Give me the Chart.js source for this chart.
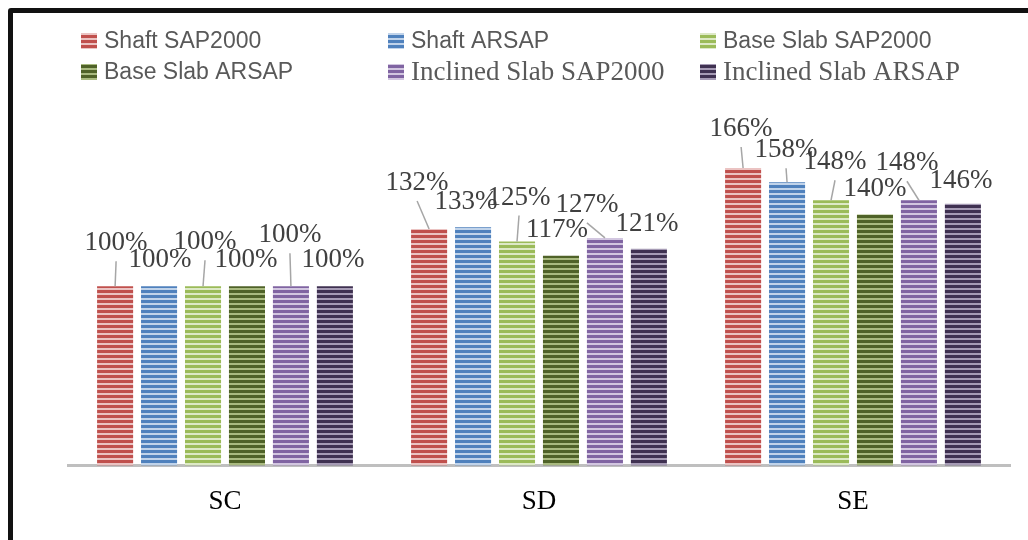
<!DOCTYPE html>
<html>
<head>
<meta charset="utf-8">
<script src="https://cdn.jsdelivr.net/npm/chart.js@4.4.1/dist/chart.umd.min.js"></script>
<style>
  html, body { margin: 0; padding: 0; background: #fff; overflow: hidden; }
  #wrap { position: relative; width: 1028px; height: 540px; }
  #frame { position: absolute; left: 8px; top: 8px; width: 1100px; height: 600px; border: 5px solid #111; border-radius: 3px; pointer-events: none; }
</style>
</head>
<body>
<div id="wrap">
  <canvas id="chart" width="1028" height="540"></canvas>
  <div id="frame"></div>
</div>
<script>
const categories = ['SC', 'SD', 'SE'];
const seriesNames = ['Shaft SAP2000', 'Shaft ARSAP', 'Base Slab SAP2000', 'Base Slab ARSAP', 'Inclined Slab SAP2000', 'Inclined Slab ARSAP'];
const shaftSap = [100, 132, 166];
const shaftArsap = [100, 133, 158];
const baseSlabSap = [100, 125, 148];
const baseSlabArsap = [100, 117, 140];
const inclinedSap = [100, 127, 148];
const inclinedArsap = [100, 121, 146];

// label nudges (px) from top centre of each bar, like the manually moved excel labels
const labelShift = [
  [[1, -43], [-12, -46], [-2, -39]],
  [[1, -26], [-7, -25], [-1, -32]],
  [[2, -44], [2, -44], [4, -38]],
  [[-1, -26], [-4, -26], [0, -26]],
  [[-1, -51], [-18, -33], [-12, -37]],
  [[-2, -26], [-2, -25], [-2, -23]]
];

const ctx = document.getElementById('chart').getContext('2d');

function stripes(color, light) {
  const c = document.createElement('canvas');
  c.width = 4;
  c.height = 5;
  const g = c.getContext('2d');
  g.fillStyle = color;
  g.fillRect(0, 0, 4, 5);
  g.fillStyle = light;
  g.fillRect(0, 3, 4, 2);
  return ctx.createPattern(c, 'repeat');
}

const fills = [
  stripes('#C0504D', '#EBC3C2'),
  stripes('#4F81BD', '#C0D3EA'),
  stripes('#9BBB59', '#DDE9C6'),
  stripes('#4F6228', '#A9BA80'),
  stripes('#8064A2', '#D2C6E0'),
  stripes('#3F3151', '#A69BB5')
];
// first four legend texts are calibri-ish, last two came out in times
const legendFonts = ['sans', 'sans', 'sans', 'sans', 'serif', 'serif'];

const legendPlugin = {
  id: 'gridLegend',
  afterDraw(chart) {
    const c = chart.ctx;
    const cols = [81, 388, 700];
    const rows = [41, 72];
    c.save();
    c.textBaseline = 'middle';
    c.textAlign = 'left';
    chart.data.datasets.forEach((ds, i) => {
      const x = cols[i % 3];
      const y = rows[Math.floor(i / 3)];
      c.fillStyle = ds.backgroundColor;
      c.fillRect(x, y - 8, 16, 16);
      c.fillStyle = '#595959';
      c.font = legendFonts[i] === 'sans' ? '23px "Liberation Sans", Arial, sans-serif' : '27px "Liberation Serif", "Times New Roman", serif';
      c.fillText(ds.label, x + 23, y + 1);
    });
    c.restore();
  }
};

const labelPlugin = {
  id: 'barLabels',
  afterDatasetsDraw(chart) {
    const c = chart.ctx;
    c.save();
    c.font = '27px "Liberation Serif", "Times New Roman", serif';
    c.textAlign = 'center';
    c.textBaseline = 'middle';
    chart.data.datasets.forEach((ds, i) => {
      chart.getDatasetMeta(i).data.forEach((bar, j) => {
        const [dx, dy] = labelShift[i][j];
        const lx = bar.x + dx;
        const ly = bar.y + dy;
        if (dy < -30) {
          c.strokeStyle = '#a6a6a6';
          c.lineWidth = 1.5;
          c.beginPath();
          c.moveTo(lx, ly + 18);
          c.lineTo(bar.x, bar.y);
          c.stroke();
        }
        c.fillStyle = '#404040';
        c.fillText(ds.data[j] + '%', lx, ly);
      });
    });
    c.restore();
  }
};

const allSeries = [shaftSap, shaftArsap, baseSlabSap, baseSlabArsap, inclinedSap, inclinedArsap];

new Chart(ctx, {
  type: 'bar',
  data: {
    labels: categories,
    datasets: allSeries.map((vals, i) => ({
      label: seriesNames[i],
      data: vals,
      backgroundColor: fills[i],
      borderWidth: 0,
      categoryPercentage: 0.84,
      barPercentage: 0.82
    }))
  },
  options: {
    responsive: false,
    animation: false,
    layout: { padding: { left: 68, right: 18, top: 107, bottom: 2 } },
    plugins: {
      legend: { display: false },
      tooltip: { enabled: false }
    },
    scales: {
      x: {
        grid: { display: false, drawTicks: false },
        border: { display: true, color: '#bfbfbf', width: 3 },
        ticks: {
          color: '#000',
          font: { family: '"Liberation Serif", "Times New Roman", serif', size: 27 },
          padding: 20
        }
      },
      y: {
        display: false,
        min: 0,
        max: 200
      }
    }
  },
  plugins: [labelPlugin, legendPlugin]
});
</script>
</body>
</html>
